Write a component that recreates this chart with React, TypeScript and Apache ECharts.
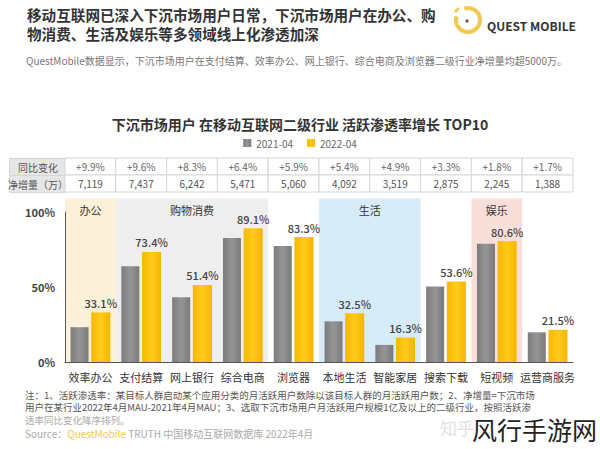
import React, { useEffect, useRef } from "react";
import * as echarts from "echarts";

const categories = ["效率办公", "支付结算", "网上银行", "综合电商", "浏览器", "本地生活", "智能家居", "搜索下载", "短视频", "运营商服务"];
const rate2021 = [23.2, 63.8, 43.1, 82.7, 77.4, 27.1, 11.4, 50.3, 78.8, 19.8];
const rate2022 = [33.1, 73.4, 51.4, 89.1, 83.3, 32.5, 16.3, 53.6, 80.6, 21.5];
const yoyChange = ["+9.9%", "+9.6%", "+8.3%", "+6.4%", "+5.9%", "+5.4%", "+4.9%", "+3.3%", "+1.8%", "+1.7%"];
const netIncrease = ["7,119", "7,437", "6,242", "5,471", "5,060", "4,092", "3,519", "2,875", "2,245", "1,388"];
const seriesNames = ["2021-04", "2022-04"];
const rowHeaders = ["同比变化", "净增量（万）"];
const groupNames = ["办公", "购物消费", "生活", "娱乐"];
const groupStart = [0, 1, 5, 8];
const groupEnd = [0, 3, 6, 8];
const bandTopValue = 109;

const titleLines = ["移动互联网已深入下沉市场用户日常，下沉市场用户在办公、购", "物消费、生活及娱乐等多领域线上化渗透加深"];
const subtitleText = "QuestMobile数据显示，下沉市场用户在支付结算、效率办公、网上银行、综合电商及浏览器二级行业净增量均超5000万。";
const chartTitle = "下沉市场用户 在移动互联网二级行业 活跃渗透率增长 TOP10";
const notes = [
  "注：1、活跃渗透率：某目标人群启动某个应用分类的月活跃用户数除以该目标人群的月活跃用户数；2、净增量=下沉市场",
  "用户在某行业2022年4月MAU-2021年4月MAU；3、选取下沉市场用户月活跃用户规模1亿及以上的二级行业，按照活跃渗",
  "透率同比变化降序排列。",
];

const bandColors = ["#FBF1D8", "#EEEEEE", "#D8EBF8", "#F9DFDA"];
const FONT = "'Noto Sans CJK SC', 'Noto Sans', sans-serif";
const TABLE_TOP = 158;
const ROW_H = 17;

export default function App() {
  const ref = useRef<HTMLDivElement>(null);
  useEffect(() => {
    if (!ref.current) return;
    const chart = echarts.init(ref.current, null, { renderer: "svg" });
    const option: any = {
      animation: false,
      backgroundColor: "#ffffff",
      textStyle: { fontFamily: FONT },
      grid: { left: 65, right: 27, top: 212, bottom: 87 },
      legend: {
        top: 133,
        left: "center",
        icon: "rect",
        itemWidth: 8,
        itemHeight: 8,
        itemGap: 14,
        textStyle: { fontSize: 10, color: "#666", fontFamily: FONT },
        data: seriesNames,
      },
      xAxis: {
        type: "category",
        data: categories,
        axisLine: { lineStyle: { color: "#555", width: 1 } },
        axisTick: { show: false },
        axisLabel: { fontSize: 11, color: "#333", margin: 9, interval: 0 },
      },
      yAxis: {
        type: "value",
        min: 0,
        max: 100,
        interval: 50,
        axisLine: { show: true, lineStyle: { color: "#555", width: 1 } },
        axisTick: { show: false },
        splitLine: { show: false },
        axisLabel: { formatter: "{value}%", fontSize: 11, color: "#444", fontWeight: "bold", margin: 10 },
      },
      series: [
        {
          type: "custom",
          name: "bands",
          z: 0,
          silent: true,
          encode: { x: [0, 1], y: 2 },
          data: groupNames.map((_, i) => [groupStart[i], groupEnd[i], 0]),
          renderItem: (params: any, api: any) => {
            const i = params.dataIndex;
            const w = api.size([1, 0])[0];
            const p0 = api.coord([api.value(0), 0]);
            const p1 = api.coord([api.value(1), bandTopValue]);
            const x0 = p0[0] - w / 2;
            const x1 = p1[0] + w / 2;
            return {
              type: "group",
              children: [
                { type: "rect", shape: { x: x0, y: p1[1], width: x1 - x0, height: p0[1] - p1[1] }, style: { fill: bandColors[i] } },
                {
                  type: "text",
                  x: (x0 + x1) / 2,
                  y: p1[1] + 11,
                  style: { text: groupNames[i], fill: "#333", fontSize: 11, align: "center", verticalAlign: "middle", fontFamily: FONT },
                },
              ],
            };
          },
        },
        {
          type: "custom",
          name: "table",
          z: 1,
          silent: true,
          encode: { x: 0, y: 1 },
          data: categories.map((_, i) => [i, 0]),
          renderItem: (params: any, api: any) => {
            const i = params.dataIndex;
            const c = api.coord([api.value(0), 0]);
            const w = api.size([1, 0])[0];
            const x = c[0] - w / 2;
            return {
              type: "group",
              children: [
                { type: "rect", shape: { x, y: TABLE_TOP, width: w, height: ROW_H }, style: { fill: "#fff", stroke: "#d6d6d6", lineWidth: 1 } },
                { type: "rect", shape: { x, y: TABLE_TOP + ROW_H, width: w, height: ROW_H }, style: { fill: "#fff", stroke: "#d6d6d6", lineWidth: 1 } },
                { type: "text", x: c[0], y: TABLE_TOP + ROW_H / 2, style: { text: yoyChange[i], fill: "#666", fontSize: 10, align: "center", verticalAlign: "middle", fontFamily: FONT } },
                { type: "text", x: c[0], y: TABLE_TOP + ROW_H * 1.5, style: { text: netIncrease[i], fill: "#555", fontSize: 10, align: "center", verticalAlign: "middle", fontFamily: FONT } },
              ],
            };
          },
        },
        {
          name: seriesNames[0],
          type: "bar",
          z: 2,
          data: rate2021,
          barWidth: 18,
          barGap: "15%",
          itemStyle: {
            color: new echarts.graphic.LinearGradient(0, 0, 1, 0, [
              { offset: 0, color: "#7c7c7c" },
              { offset: 0.5, color: "#959595" },
              { offset: 1, color: "#7a7a7a" },
            ]),
          },
        },
        {
          name: seriesNames[1],
          type: "bar",
          z: 2,
          data: rate2022,
          barWidth: 19,
          itemStyle: {
            color: new echarts.graphic.LinearGradient(0, 0, 1, 0, [
              { offset: 0, color: "#F7B800" },
              { offset: 0.5, color: "#FFCB1A" },
              { offset: 1, color: "#F5B400" },
            ]),
          },
          label: {
            show: true,
            position: "top",
            distance: 4,
            formatter: (p: any) => p.value.toFixed(1) + "%",
            fontSize: 11,
            color: "#444",
            fontWeight: 500,
          },
        },
      ],
      graphic: [
        {
          type: "text",
          left: 27,
          top: 7,
          style: { text: titleLines[0], fontSize: 14.6, fontWeight: "bold", fill: "#333", fontFamily: FONT },
        },
        {
          type: "text",
          left: 27,
          top: 26,
          style: { text: titleLines[1], fontSize: 14.6, fontWeight: "bold", fill: "#333", fontFamily: FONT },
        },
        {
          type: "arc",
          shape: { cx: 468, cy: 20, r: 12, startAngle: -Math.PI * 0.6, endAngle: Math.PI * 1.1 },
          style: { stroke: "#F2C94C", lineWidth: 4, fill: "none" },
        },
        {
          type: "line",
          shape: { x1: 455, y1: 12, x2: 459, y2: 8 },
          style: { stroke: "#F2C94C", lineWidth: 2.5 },
        },
        { type: "circle", shape: { cx: 467, cy: 21, r: 1.6 }, style: { fill: "#555" } },
        {
          type: "text",
          left: 487,
          top: 19,
          style: { text: "QUEST MOBILE", fontSize: 12, fontWeight: "bold", fill: "#333", fontFamily: FONT },
        },
        {
          type: "text",
          left: 26,
          top: 55,
          style: { text: subtitleText, fontSize: 10, fill: "#777", fontFamily: FONT },
        },
        {
          type: "text",
          left: "center",
          top: 117,
          style: { text: chartTitle, fontSize: 14, fontWeight: "bold", fill: "#333", fontFamily: FONT },
        },
        {
          type: "group",
          left: 8,
          top: TABLE_TOP,
          children: rowHeaders.flatMap((h, r) => [
            { type: "rect", shape: { x: 0, y: r * ROW_H, width: 57, height: ROW_H }, style: { fill: "#E6E6E6", stroke: "#d6d6d6", lineWidth: 1 } },
            { type: "text", x: 28.5, y: r * ROW_H + ROW_H / 2, style: { text: h, fontSize: 10, fill: "#555", align: "center", verticalAlign: "middle", fontFamily: FONT } },
          ]),
        },
        {
          type: "text",
          left: 25,
          top: 390,
          style: { text: notes[0], fontSize: 9.5, fill: "#555", fontFamily: FONT },
        },
        {
          type: "text",
          left: 25,
          top: 402.5,
          style: { text: notes[1], fontSize: 9.5, fill: "#555", fontFamily: FONT },
        },
        {
          type: "text",
          left: 25,
          top: 415,
          style: { text: notes[2], fontSize: 9.5, fill: "#aaa", fontFamily: FONT },
        },
        {
          type: "text",
          left: 25,
          top: 428,
          style: {
            text: "{a|Source：}{b|QuestMobile}{a| TRUTH 中国移动互联网数据库 2022年4月}",
            fontFamily: FONT,
            rich: {
              a: { fontSize: 10, fill: "#aaa", fontFamily: FONT },
              b: { fontSize: 10, fill: "#F2C94C", fontFamily: FONT },
            },
          },
        },
        {
          type: "text",
          left: 440,
          top: 419,
          style: { text: "知乎", fontSize: 17, fill: "#e2e2e2", fontFamily: FONT },
        },
        {
          type: "text",
          left: 472,
          top: 416,
          style: { text: "风行手游网", fontSize: 25, fill: "#222", fontFamily: FONT },
        },
      ],
    };
    chart.setOption(option);
    return () => chart.dispose();
  }, []);
  return <div ref={ref} style={{ position: "fixed", left: 0, top: 0, width: 600, height: 449 }} />;
}
